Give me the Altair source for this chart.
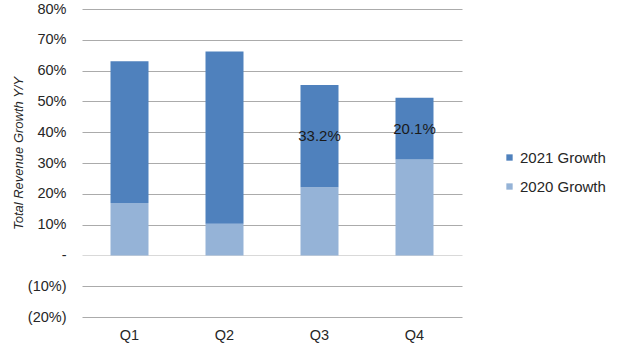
import altair as alt
import pandas as pd

quarters = ["Q1", "Q2", "Q3", "Q4"]
growth_2020 = [17.0, 10.3, 22.1, 31.1]
growth_2021 = [46.0, 55.9, 33.2, 20.1]
labels_2021 = ["", "", "33.2%", "20.1%"]
series = ["2021 Growth", "2020 Growth"]
colors = ["#4F81BD", "#95B3D7"]
y_ticks = [-20, -10, 0, 10, 20, 30, 40, 50, 60, 70, 80]

rows = []
for q, a, b in zip(quarters, growth_2020, growth_2021):
    rows.append({"quarter": q, "series": "2020 Growth", "value": a, "ord": 0})
    rows.append({"quarter": q, "series": "2021 Growth", "value": b, "ord": 1})
df = pd.DataFrame(rows)

lab = pd.DataFrame({
    "quarter": quarters,
    "mid": [a + b / 2 for a, b in zip(growth_2020, growth_2021)],
    "text": labels_2021,
})

FONT = "Liberation Sans"
x_axis = alt.Axis(title=None, labelAngle=0, ticks=False, domain=False,
                  labelPadding=11, labelFontSize=14.5, labelColor="#262626",
                  labelFont=FONT)
x_scale = alt.Scale(paddingInner=0.6, paddingOuter=0.3)

label_expr = ("datum.value == 0 ? '-' : (datum.value < 0 ? '(' + (-datum.value) + '%)' "
              ": datum.value + '%')")

y_axis = alt.Axis(values=y_ticks, labelExpr=label_expr, ticks=False, domain=False,
                  labelOverlap=False,
                  labelFontSize=14.5, labelColor="#262626", labelFont=FONT,
                  labelPadding=16,
                  gridColor={"condition": {"test": "datum.value === 0", "value": "#D9D9D9"},
                             "value": "#ABABAB"},
                  gridWidth=1.2,
                  title="Total Revenue Growth Y/Y", titleFont=FONT, titleFontSize=13,
                  titleFontStyle="italic", titleFontWeight="normal", titleColor="#262626",
                  titleX=-64, titleY=144, titleAngle=-90, titleAlign="center",
                  titleBaseline="middle")
y_scale = alt.Scale(domain=[-20, 80], nice=False, zero=False)

bars = alt.Chart(df).mark_bar().encode(
    x=alt.X("quarter:N", sort=quarters, scale=x_scale, axis=x_axis),
    y=alt.Y("value:Q", stack="zero", scale=y_scale, axis=y_axis),
    color=alt.Color("series:N", scale=alt.Scale(domain=series, range=colors),
                    legend=alt.Legend(title=None, orient="none", legendX=420, legendY=141,
                                      symbolType="square", symbolSize=40, symbolStrokeWidth=0,
                                      labelFontSize=15, labelFont=FONT, labelColor="#262626",
                                      rowPadding=13, labelOffset=3)),
    order=alt.Order("ord:Q", sort="ascending"),
)

text = alt.Chart(lab).mark_text(fontSize=15, font=FONT, color="#1a1a1a").encode(
    x=alt.X("quarter:N", sort=quarters, scale=x_scale, axis=x_axis),
    y=alt.Y("mid:Q", scale=y_scale, axis=y_axis, title="Total Revenue Growth Y/Y"),
    text="text:N",
)

chart = alt.layer(bars, text).properties(
    width=380, height=308,
    autosize=alt.AutoSizeParams(type="none"),
    padding={"left": 82, "top": 9, "right": 178, "bottom": 36},
).configure_view(stroke=None).configure_axis(labelFont=FONT)

chart.save("out.html", embed_options={"renderer": "svg", "actions": False})
